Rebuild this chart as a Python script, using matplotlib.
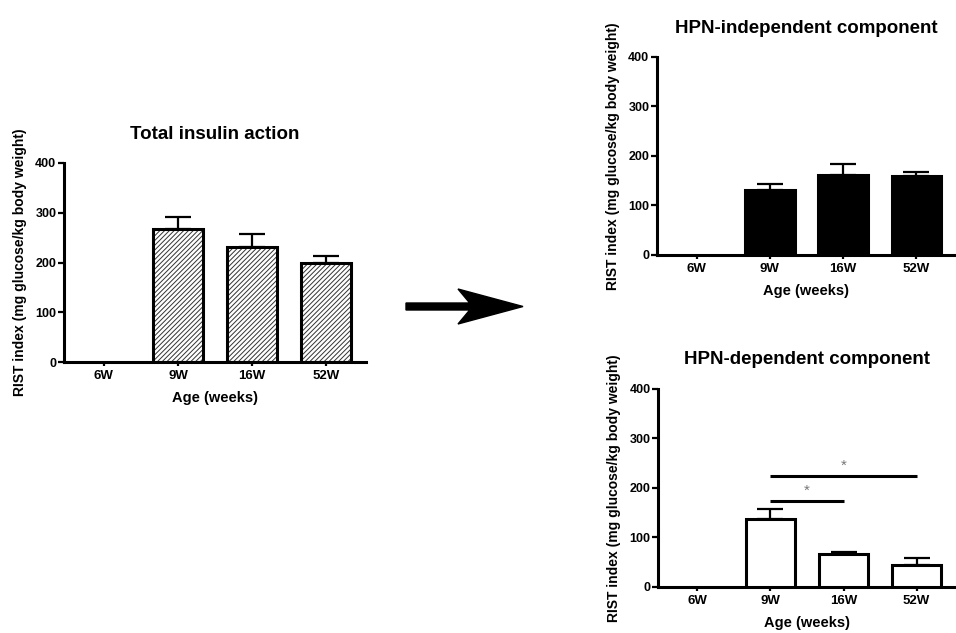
import numpy as np
import matplotlib
matplotlib.use("Agg")
import matplotlib.pyplot as plt
from matplotlib.patches import FancyArrow

plt.rcParams["font.family"] = ["Liberation Sans", "DejaVu Sans"]
plt.rcParams["hatch.linewidth"] = 0.7

# Grupos de edad y valores (media y error estándar, sólo barra superior)
ages = ["6W", "9W", "16W", "52W"]

total_mean = [np.nan, 267, 232, 200]
total_err = [np.nan, 25, 26, 14]

indep_mean = [np.nan, 132, 162, 160]
indep_err = [np.nan, 11, 21, 8]

dep_mean = [np.nan, 136, 66, 44]
dep_err = [np.nan, 22, 5, 15]

# Comparaciones significativas en el componente dependiente: (grupo a, grupo b, altura)
dep_sig = [(1, 2, 174), (1, 3, 224)]

YLABEL = "RIST index (mg glucose/kg body weight)"
XLABEL = "Age (weeks)"
LW = 2.2


def draw_panel(ax, means, errs, title, style):
    x = np.arange(len(ages))
    if style == "hatch":
        ax.bar(x, means, width=0.68, color="white", edgecolor="#333333",
               linewidth=0, hatch="///////", zorder=2)
        ax.bar(x, means, width=0.68, color="none", edgecolor="black",
               linewidth=LW, zorder=3)
    else:
        face = "black" if style == "solid" else "white"
        ax.bar(x, means, width=0.68, color=face, edgecolor="black",
               linewidth=LW, zorder=3)
    lower = np.zeros(len(errs))
    ax.errorbar(x, means, yerr=[lower, errs], fmt="none", ecolor="black",
                elinewidth=1.6, capsize=9.5, capthick=1.6, zorder=2)

    ax.set_xlim(-0.54, 3.54)
    ax.set_ylim(0, 400)
    ax.set_yticks([0, 100, 200, 300, 400])
    ax.set_xticks(x)
    ax.set_xticklabels(ages)
    for side in ("top", "right"):
        ax.spines[side].set_visible(False)
    for side in ("left", "bottom"):
        ax.spines[side].set_linewidth(LW)
    ax.tick_params(axis="y", direction="out", length=4.5, width=1.6,
                   labelsize=9, pad=1)
    ax.tick_params(axis="x", direction="out", length=3, width=1.6,
                   labelsize=9.5, pad=3)
    for lab in ax.get_xticklabels() + ax.get_yticklabels():
        lab.set_fontweight("bold")
    ax.set_ylabel(YLABEL, fontsize=10, fontweight="bold", labelpad=6)
    ax.set_xlabel(XLABEL, fontsize=10.5, fontweight="bold", labelpad=6.5)
    ax.set_title(title, fontsize=13.5, fontweight="bold", pad=17.5)


fig = plt.figure(figsize=(9.56, 6.33), dpi=100)

ax_total = fig.add_axes([0.0669, 0.4281, 0.3159, 0.3144])
draw_panel(ax_total, total_mean, total_err, "Total insulin action", "hatch")

ax_indep = fig.add_axes([0.6872, 0.5972, 0.3128, 0.3128])
draw_panel(ax_indep, indep_mean, indep_err, "HPN-independent component", "solid")

ax_dep = fig.add_axes([0.6883, 0.0731, 0.3117, 0.3128])
draw_panel(ax_dep, dep_mean, dep_err, "HPN-dependent component", "open")

# Líneas de significancia con asterisco
for a, b, h in dep_sig:
    ax_dep.plot([a, b], [h, h], color="black", linewidth=2.2,
                solid_capstyle="butt", zorder=4)
    ax_dep.text((a + b) / 2, h + 6, "*", ha="center", va="bottom",
                fontsize=11, color="#777777")

# Flecha entre el total y los componentes
ov = fig.add_axes([0, 0, 1, 1], zorder=-1)
ov.set_xlim(0, 956)
ov.set_ylim(633, 0)
ov.axis("off")
ov.add_patch(FancyArrow(406, 306.5, 117, 0, width=7, head_width=35,
                        head_length=65, overhang=0.18,
                        length_includes_head=True, color="black"))

fig.savefig("out.png", dpi=100)
